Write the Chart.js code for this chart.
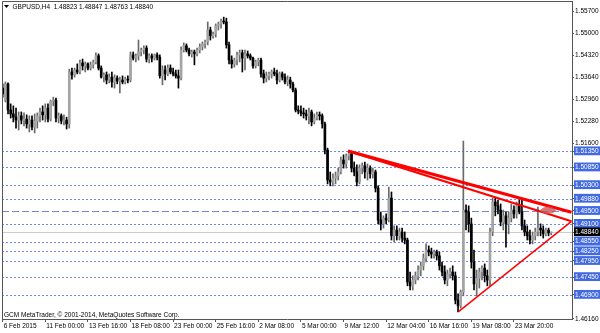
<!DOCTYPE html>
<html><head><meta charset="utf-8">
<script src="https://cdn.jsdelivr.net/npm/chart.js@4/dist/chart.umd.min.js"></script>
<style>html,body{margin:0;padding:0;background:#fff;}</style>
</head><body>
<canvas id="c" width="600" height="333"></canvas>
<script>
const opens=[1.5331,1.5294,1.5344,1.5263,1.5251,1.5241,1.5232,1.5245,1.5232,1.5235,
1.5220,1.5232,1.5210,1.5229,1.5245,1.5257,1.5248,1.5269,1.5235,1.5291,
1.5294,1.5238,1.5245,1.5229,1.5232,1.5220,1.5381,1.5372,1.5387,1.5381,
1.5409,1.5400,1.5406,1.5393,1.5403,1.5412,1.5431,1.5393,1.5365,1.5372,
1.5356,1.5365,1.5350,1.5362,1.5353,1.5356,1.5350,1.5359,1.5356,1.5434,
1.5424,1.5431,1.5443,1.5449,1.5455,1.5421,1.5431,1.5424,1.5434,1.5427,
1.5369,1.5387,1.5375,1.5393,1.5381,1.5375,1.5369,1.5362,1.5449,1.5462,
1.5449,1.5437,1.5443,1.5437,1.5449,1.5459,1.5468,1.5474,1.5511,1.5493,
1.5499,1.5524,1.5530,1.5539,1.5536,1.5465,1.5418,1.5406,1.5418,1.5434,
1.5440,1.5424,1.5437,1.5431,1.5424,1.5400,1.5412,1.5418,1.5375,1.5362,
1.5369,1.5375,1.5381,1.5375,1.5356,1.5375,1.5365,1.5350,1.5356,1.5344,
1.5325,1.5263,1.5260,1.5254,1.5251,1.5245,1.5257,1.5226,1.5238,1.5248,
1.5245,1.5220,1.5139,1.5046,1.5040,1.5052,1.5059,1.5071,1.5108,1.5096,
1.5121,1.5127,1.5083,1.5071,1.5040,1.5083,1.5090,1.5071,1.5083,1.5065,
1.5071,1.5021,1.4922,1.4910,1.4928,1.4922,1.4990,1.4873,1.4891,1.4873,
1.4885,1.4866,1.4860,1.4730,1.4718,1.4736,1.4749,1.4767,1.4780,1.4804,
1.4829,1.4823,1.4817,1.4823,1.4811,1.4780,1.4761,1.4736,1.4755,1.4761,
1.4749,1.4674,1.4656,1.4699,1.4953,1.4947,1.4910,1.4792,1.4724,1.4742,
1.4761,1.4773,1.4749,1.4736,1.4885,1.4978,1.4966,1.4953,1.4916,1.4935,
1.4910,1.4928,1.4953,1.4941,1.4966,1.4947,1.4904,1.4885,1.4873,1.4860,
1.4873,1.4885,1.4897,1.4891,1.4879,1.4891,1.48823];
const highs=[1.5344,1.5350,1.5347,1.5282,1.5276,1.5269,1.5257,1.5257,1.5254,1.5248,
1.5245,1.5245,1.5251,1.5254,1.5269,1.5276,1.5282,1.5282,1.5294,1.5303,
1.5300,1.5254,1.5251,1.5248,1.5241,1.5390,1.5393,1.5393,1.5406,1.5418,
1.5421,1.5412,1.5409,1.5412,1.5418,1.5440,1.5437,1.5400,1.5378,1.5381,
1.5375,1.5381,1.5372,1.5369,1.5365,1.5369,1.5365,1.5369,1.5443,1.5443,
1.5437,1.5480,1.5455,1.5462,1.5462,1.5437,1.5437,1.5437,1.5440,1.5434,
1.5400,1.5400,1.5403,1.5403,1.5393,1.5387,1.5387,1.5459,1.5471,1.5468,
1.5455,1.5449,1.5449,1.5455,1.5468,1.5474,1.5480,1.5536,1.5520,1.5505,
1.5530,1.5536,1.5545,1.5551,1.5548,1.5474,1.5431,1.5424,1.5443,1.5449,
1.5449,1.5449,1.5446,1.5437,1.5427,1.5418,1.5424,1.5424,1.5387,1.5381,
1.5381,1.5387,1.5393,1.5387,1.5381,1.5381,1.5375,1.5369,1.5365,1.5350,
1.5331,1.5276,1.5276,1.5269,1.5263,1.5269,1.5263,1.5251,1.5257,1.5257,
1.5251,1.5226,1.5145,1.5071,1.5065,1.5071,1.5083,1.5117,1.5124,1.5127,
1.5136,1.5133,1.5102,1.5093,1.5093,1.5099,1.5102,1.5096,1.5090,1.5083,
1.5077,1.5028,1.4947,1.4935,1.4941,1.5024,1.5009,1.4904,1.4904,1.4897,
1.4897,1.4885,1.4866,1.4761,1.4749,1.4761,1.4780,1.4792,1.4817,1.4848,
1.4842,1.4835,1.4829,1.4829,1.4823,1.4792,1.4780,1.4767,1.4773,1.4780,
1.4761,1.4693,1.4705,1.5167,1.4969,1.4966,1.4928,1.4829,1.4767,1.4773,
1.4780,1.4786,1.4767,1.4897,1.4990,1.4990,1.4984,1.4972,1.4953,1.4947,
1.4947,1.4972,1.4966,1.4978,1.4984,1.4990,1.4922,1.4904,1.4891,1.4885,
1.4897,1.4962,1.4910,1.4904,1.4897,1.4897,1.48847];
const lows=[1.5303,1.5288,1.5251,1.5238,1.5226,1.5207,1.5201,1.5220,1.5214,1.5207,
1.5195,1.5201,1.5192,1.5207,1.5226,1.5232,1.5226,1.5226,1.5229,1.5276,
1.5226,1.5223,1.5220,1.5217,1.5204,1.5207,1.5359,1.5365,1.5375,1.5375,
1.5387,1.5381,1.5387,1.5387,1.5393,1.5406,1.5387,1.5362,1.5350,1.5344,
1.5347,1.5334,1.5331,1.5344,1.5316,1.5344,1.5344,1.5347,1.5350,1.5418,
1.5412,1.5418,1.5431,1.5437,1.5412,1.5409,1.5412,1.5418,1.5418,1.5362,
1.5341,1.5356,1.5369,1.5375,1.5369,1.5362,1.5331,1.5356,1.5443,1.5443,
1.5431,1.5427,1.5403,1.5431,1.5440,1.5449,1.5455,1.5465,1.5480,1.5486,
1.5489,1.5511,1.5517,1.5530,1.5455,1.5406,1.5393,1.5396,1.5403,1.5412,
1.5381,1.5387,1.5424,1.5418,1.5393,1.5393,1.5400,1.5365,1.5347,1.5350,
1.5356,1.5362,1.5369,1.5344,1.5350,1.5356,1.5344,1.5338,1.5331,1.5319,
1.5257,1.5251,1.5245,1.5238,1.5232,1.5220,1.5214,1.5220,1.5232,1.5232,
1.5207,1.5127,1.5034,1.5028,1.5028,1.5034,1.5046,1.5065,1.5083,1.5083,
1.5108,1.5071,1.5059,1.5028,1.5034,1.5065,1.5052,1.5046,1.5052,1.5052,
1.5009,1.4910,1.4891,1.4897,1.4910,1.4916,1.4860,1.4854,1.4860,1.4860,
1.4854,1.4848,1.4718,1.4705,1.4705,1.4724,1.4736,1.4749,1.4767,1.4792,
1.4811,1.4804,1.4804,1.4798,1.4767,1.4749,1.4724,1.4718,1.4742,1.4736,
1.4662,1.4637,1.4649,1.4687,1.4891,1.4885,1.4773,1.4705,1.4687,1.4711,
1.4736,1.4730,1.4718,1.4718,1.4873,1.4935,1.4941,1.4904,1.4891,1.4838,
1.4879,1.4916,1.4928,1.4928,1.4941,1.4891,1.4873,1.4860,1.4848,1.4848,
1.4860,1.4873,1.4873,1.4866,1.4873,1.4873,1.48763];
const closes=[1.5313,1.5344,1.5263,1.5251,1.5241,1.5232,1.5245,1.5232,1.5235,1.5220,
1.5232,1.5210,1.5229,1.5245,1.5257,1.5248,1.5269,1.5235,1.5291,1.5294,
1.5238,1.5245,1.5229,1.5232,1.5220,1.5381,1.5372,1.5387,1.5381,1.5409,
1.5400,1.5406,1.5393,1.5403,1.5412,1.5431,1.5393,1.5365,1.5372,1.5356,
1.5365,1.5350,1.5362,1.5353,1.5356,1.5350,1.5359,1.5356,1.5434,1.5424,
1.5431,1.5443,1.5449,1.5455,1.5421,1.5431,1.5424,1.5434,1.5427,1.5369,
1.5387,1.5375,1.5393,1.5381,1.5375,1.5369,1.5362,1.5449,1.5462,1.5449,
1.5437,1.5443,1.5437,1.5449,1.5459,1.5468,1.5474,1.5511,1.5493,1.5499,
1.5524,1.5530,1.5539,1.5536,1.5465,1.5418,1.5406,1.5418,1.5434,1.5440,
1.5424,1.5437,1.5431,1.5424,1.5400,1.5412,1.5418,1.5375,1.5362,1.5369,
1.5375,1.5381,1.5375,1.5356,1.5375,1.5365,1.5350,1.5356,1.5344,1.5325,
1.5263,1.5260,1.5254,1.5251,1.5245,1.5257,1.5226,1.5238,1.5248,1.5245,
1.5220,1.5139,1.5046,1.5040,1.5052,1.5059,1.5071,1.5108,1.5096,1.5121,
1.5127,1.5083,1.5071,1.5040,1.5083,1.5090,1.5071,1.5083,1.5065,1.5071,
1.5021,1.4922,1.4910,1.4928,1.4922,1.4990,1.4873,1.4891,1.4873,1.4885,
1.4866,1.4860,1.4730,1.4718,1.4736,1.4749,1.4767,1.4780,1.4804,1.4829,
1.4823,1.4817,1.4823,1.4811,1.4780,1.4761,1.4736,1.4755,1.4761,1.4749,
1.4674,1.4656,1.4699,1.4953,1.4947,1.4910,1.4792,1.4724,1.4742,1.4761,
1.4773,1.4749,1.4736,1.4885,1.4978,1.4966,1.4953,1.4916,1.4935,1.4910,
1.4928,1.4953,1.4941,1.4966,1.4947,1.4904,1.4885,1.4873,1.4860,1.4873,
1.4885,1.4897,1.4891,1.4879,1.4891,1.4882,1.48840];

const xTickIdx=[0,16,32,48,64,80,96,112,128,144,160,176,192];
const xTickLabels=["6 Feb 2015","11 Feb 00:00","13 Feb 16:00","18 Feb 08:00","23 Feb 00:00","25 Feb 16:00","2 Mar 08:00","5 Mar 00:00","9 Mar 12:00","12 Mar 04:00","16 Mar 16:00","19 Mar 08:00","23 Mar 20:00"];
const priceTicks=[1.557,1.55,1.5432,1.5364,1.5296,1.5228,1.516,1.5135,1.5085,1.503,1.4988,1.495,1.491,1.4884,1.4855,1.4825,1.4795,1.4745,1.469,1.4616];
const levelLines=[1.5135,1.5085,1.503,1.4988,1.491,1.4855,1.4825,1.4795,1.4745,1.469];
const dashedLevel=1.495;
const currentPrice=1.4884;
const trendUpper=[{x:129.7,y:1.5136},{x:213.6,y:1.4946}];
const trendMid=[{x:129.7,y:1.5136},{x:213.6,y:1.4918}];
const trendLow=[{x:171.2,y:1.4638},{x:213.6,y:1.4918}];
const ellipseCenter={x:204.8,y:1.4952};
const titleText="GBPUSD,H4  1.48823 1.48847 1.48763 1.48840";
const copyText="GCM MetaTrader, \u00A9 2001-2014, MetaQuotes Software Corp.";

const FONT="'Liberation Sans', Arial, sans-serif";
const FCOL='#555';
const near=(a,b)=>Math.abs(a-b)<1e-7;
const isLevel=v=>levelLines.some(l=>near(l,v))||near(v,dashedLevel);

const wickData=opens.map((o,i)=>({x:i,y:[lows[i],highs[i]]}));
const bodyData=opens.map((o,i)=>({x:i,y:[o,closes[i]]}));
const up=i=>closes[i]>=opens[i];

const decor={id:'decor',
  beforeDatasetsDraw(chart){
    const {ctx,chartArea:a,scales:{y}}=chart;
    ctx.save();
    ctx.lineWidth=1;
    ctx.strokeStyle='#6f8be8';
    ctx.setLineDash([2,2]);
    levelLines.forEach(v=>{const py=Math.round(y.getPixelForValue(v))+0.5;ctx.beginPath();ctx.moveTo(a.left,py);ctx.lineTo(a.right,py);ctx.stroke();});
    ctx.setLineDash([7,3]);
    ctx.strokeStyle='#7088dc';
    let py=Math.round(y.getPixelForValue(dashedLevel))+0.5;
    ctx.beginPath();ctx.moveTo(a.left,py);ctx.lineTo(a.right,py);ctx.stroke();
    ctx.setLineDash([]);
    ctx.strokeStyle='#cccccc';
    py=Math.round(y.getPixelForValue(currentPrice))+0.5;
    ctx.beginPath();ctx.moveTo(a.left,py);ctx.lineTo(a.right,py);ctx.stroke();
    ctx.restore();
  },
  afterDatasetsDraw(chart){
    const {ctx,chartArea:a,scales:{x,y}}=chart;
    ctx.save();
    ctx.beginPath();ctx.rect(a.left,a.top,a.right-a.left,a.bottom-a.top);ctx.clip();
    ctx.fillStyle='rgba(200,85,85,0.8)';
    ctx.beginPath();
    ctx.ellipse(x.getPixelForValue(ellipseCenter.x),y.getPixelForValue(ellipseCenter.y),7.5,3.5,0,0,Math.PI*2);
    ctx.fill();
    ctx.restore();
  },
  afterDraw(chart){
    const {ctx,chartArea:a}=chart;
    ctx.save();
    ctx.strokeStyle=FCOL;ctx.lineWidth=1;
    ctx.beginPath();
    ctx.moveTo(a.left+0.5,a.bottom);ctx.lineTo(a.left+0.5,a.top+0.5);ctx.lineTo(a.right,a.top+0.5);
    ctx.stroke();
    ctx.fillStyle='#000';
    ctx.beginPath();ctx.moveTo(4,5);ctx.lineTo(9,5);ctx.lineTo(6.5,8);ctx.closePath();ctx.fill();
    ctx.font="6.5px "+FONT;
    ctx.textBaseline='middle';ctx.textAlign='left';
    ctx.fillText(titleText,12.5,7);
    ctx.fillText(copyText,4,315.5);
    ctx.restore();
  }
};

new Chart(document.getElementById('c'),{
  type:'bar',
  data:{datasets:[
    {type:'line',data:trendUpper,borderColor:'#ff0000',borderWidth:3,pointRadius:0,order:0},
    {type:'line',data:trendMid,borderColor:'#ff0000',borderWidth:2,pointRadius:0,order:0},
    {type:'line',data:trendLow,borderColor:'#ff0000',borderWidth:1.5,pointRadius:0,order:0},
    {data:bodyData,grouped:false,barThickness:2,minBarLength:1,borderWidth:0,order:1,
     backgroundColor:c=>up(c.dataIndex)?'#a4a4a4':'#000000'},
    {data:wickData,grouped:false,barThickness:1,minBarLength:1,borderWidth:0,order:2,
     backgroundColor:c=>up(c.dataIndex)?'#6a6a6a':'#000000'}
  ]},
  options:{
    responsive:false,animation:false,devicePixelRatio:1,
    layout:{padding:{left:2,top:1,right:0,bottom:0}},
    plugins:{legend:{display:false},tooltip:{enabled:false}},
    scales:{
      x:{type:'linear',min:-0.263,max:213.8,offset:false,position:'bottom',
        grid:{drawOnChartArea:false,drawTicks:true,tickLength:3,color:FCOL,offset:false},
        border:{display:true,color:FCOL},
        ticks:{autoSkip:false,maxRotation:0,minRotation:0,align:'start',labelOffset:1,padding:0,
          font:{family:FONT,size:6.5},color:'#000',
          callback:v=>{const k=xTickIdx.indexOf(v);return k>=0?xTickLabels[k]:'';}},
        afterBuildTicks:s=>{s.ticks=xTickIdx.map(v=>({value:v}));},
        afterFit:s=>{s.height=14;s.paddingLeft=0;s.paddingRight=0;}
      },
      y:{type:'linear',position:'right',min:1.46152,max:1.5601,
        grid:{drawOnChartArea:false,drawTicks:true,tickLength:2,color:FCOL},
        border:{display:true,color:FCOL},
        ticks:{autoSkip:false,padding:1,font:{family:FONT,size:6.5},
          color:c=>(isLevel(c.tick.value)||near(c.tick.value,currentPrice))?'#ffffff':'#000000',
          showLabelBackdrop:true,
          backdropColor:c=>near(c.tick.value,currentPrice)?'#000000':(isLevel(c.tick.value)?'#4169e1':'rgba(0,0,0,0)'),
          backdropPadding:{left:1,right:4,top:1,bottom:0},
          callback:v=>Number(v).toFixed(5)},
        afterBuildTicks:s=>{s.ticks=priceTicks.map(v=>({value:v}));},
        afterFit:s=>{s.width=28;s.paddingTop=0;s.paddingBottom=0;}
      }
    }
  },
  plugins:[decor]
});
</script>
</body></html>
